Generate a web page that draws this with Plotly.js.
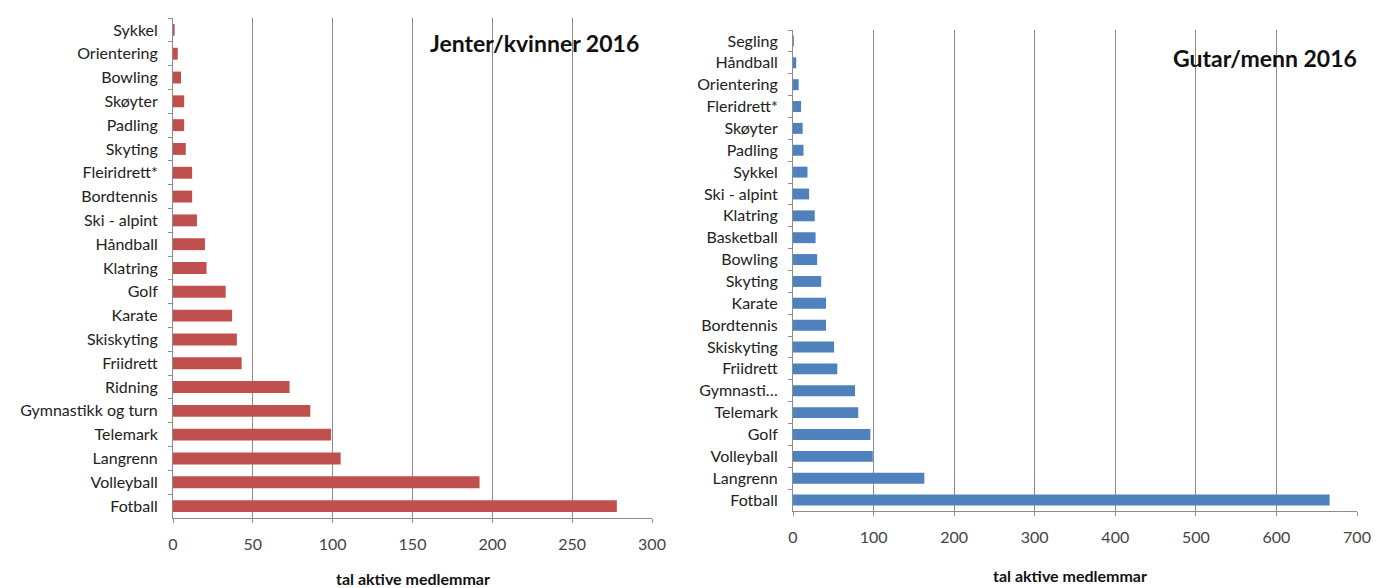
<!DOCTYPE html>
<html><head><meta charset="utf-8">
<script src="https://cdn.plot.ly/plotly-3.0.1.min.js"></script>
<style>body{margin:0;background:#fff}#c{width:1385px;height:588px}</style>
</head><body><div id="c"></div>
<script>
const girlsCats = ["Sykkel","Orientering","Bowling","Skøyter","Padling","Skyting","Fleiridrett*","Bordtennis","Ski - alpint","Håndball","Klatring","Golf","Karate","Skiskyting","Friidrett","Ridning","Gymnastikk og turn","Telemark","Langrenn","Volleyball","Fotball"];
const girlsVals = [1,3,5,7,7,8,12,12,15,20,21,33,37,40,43,73,86,99,105,192,278];
const boysCats = ["Segling","Håndball","Orientering","Fleridrett*","Skøyter","Padling","Sykkel","Ski - alpint","Klatring","Basketball","Bowling","Skyting","Karate","Bordtennis","Skiskyting","Friidrett","Gymnasti…","Telemark","Golf","Volleyball","Langrenn","Fotball"];
const boysVals = [1,4,7,10,12,13,18,20,27,28,30,35,41,41,51,55,77,81,96,99,163,666];
const girlsTicks = [0,50,100,150,200,250,300];
const boysTicks = [0,100,200,300,400,500,600,700];
const girlsTitle = "Jenter/kvinner 2016";
const boysTitle = "Gutar/menn 2016";
const axisTitle = "tal aktive medlemmar";

const FONT = "Lato, 'Open Sans', sans-serif";
const W = 1385, H = 588;
const traces = [
  {type:'bar', orientation:'h', x:girlsVals, y:girlsCats, xaxis:'x', yaxis:'y',
   marker:{color:'#C0504D'}, hoverinfo:'x+y'},
  {type:'bar', orientation:'h', x:boysVals, y:boysCats, xaxis:'x2', yaxis:'y2',
   marker:{color:'#4F81BD'}, hoverinfo:'x+y'}
];
const xcommon = {showgrid:true, gridcolor:'#8c8c8c', gridwidth:1, zeroline:false,
  showline:true, linecolor:'#8c8c8c', ticks:'outside', ticklen:4, tickcolor:'#8c8c8c',
  ticklabelstandoff:8,
  tickfont:{family:FONT, size:16, color:'#444'}, fixedrange:true};
const ycommon = {type:'category', autorange:'reversed', showgrid:false, zeroline:false,
  showline:true, linecolor:'#8c8c8c', ticks:'outside', ticklen:4, tickcolor:'#8c8c8c',
  tickson:'boundaries', tickfont:{family:FONT, size:16, color:'#222'}, ticklabelstandoff:11};
const layout = {
  width:W, height:H, margin:{l:0,r:0,t:0,b:0}, showlegend:false,
  paper_bgcolor:'#fff', plot_bgcolor:'#fff', bargap:0.5,
  xaxis:Object.assign({}, xcommon, {domain:[173/W, 652/W], range:[0,300], tickvals:girlsTicks, anchor:'y'}),
  yaxis:Object.assign({}, ycommon, {domain:[1-518/H, 1-18/H], anchor:'x', categoryorder:'array', categoryarray:girlsCats}),
  xaxis2:Object.assign({}, xcommon, {domain:[793/W, 1357/W], range:[0,700], tickvals:boysTicks, anchor:'y2'}),
  yaxis2:Object.assign({}, ycommon, {domain:[1-511/H, 1-30/H], anchor:'x2', categoryorder:'array', categoryarray:boysCats}),
  annotations:[
    {text:'<b>'+girlsTitle+'</b>', xref:'paper', yref:'paper', x:534/W, y:1-43/H, xanchor:'center', yanchor:'middle', showarrow:false, font:{family:FONT, size:23, color:'#111'}},
    {text:'<b>'+boysTitle+'</b>', xref:'paper', yref:'paper', x:1265/W, y:1-58/H, xanchor:'center', yanchor:'middle', showarrow:false, font:{family:FONT, size:23, color:'#111'}},
    {text:'<b>'+axisTitle+'</b>', xref:'paper', yref:'paper', x:413/W, y:1-578/H, xanchor:'center', yanchor:'middle', showarrow:false, font:{family:FONT, size:16, color:'#111'}},
    {text:'<b>'+axisTitle+'</b>', xref:'paper', yref:'paper', x:1070/W, y:1-575/H, xanchor:'center', yanchor:'middle', showarrow:false, font:{family:FONT, size:16, color:'#111'}}
  ]
};
Plotly.newPlot('c', traces, layout, {displayModeBar:false, staticPlot:true});
</script></body></html>
